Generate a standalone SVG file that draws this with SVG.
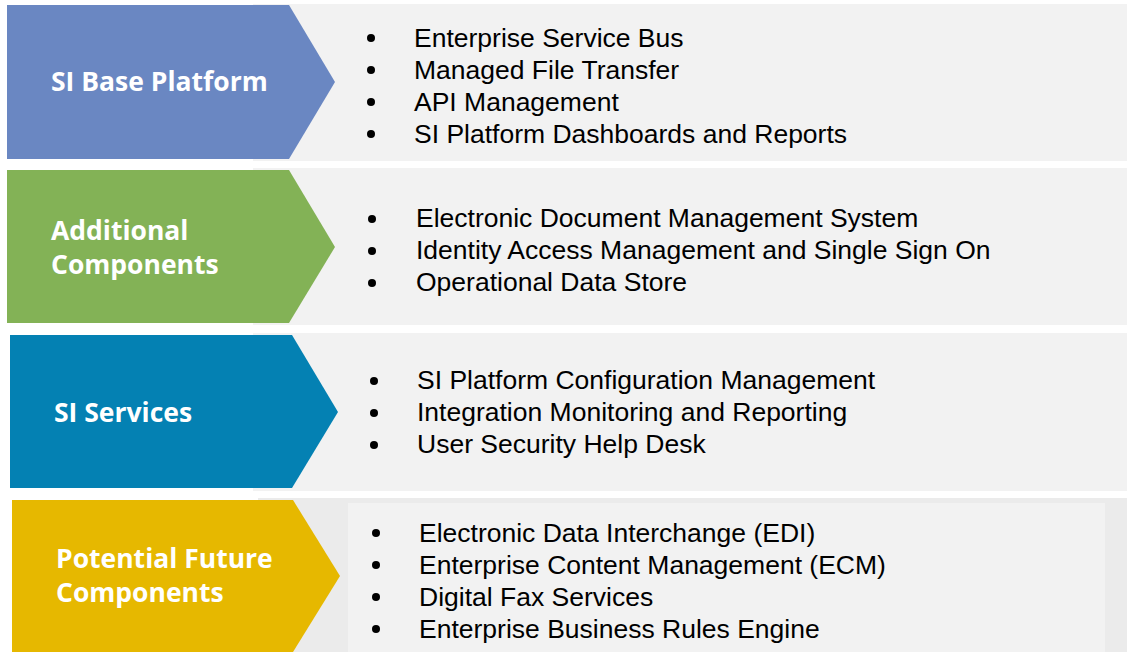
<svg xmlns="http://www.w3.org/2000/svg" width="1127" height="652" viewBox="0 0 1127 652">
<style>
.band{fill:#f2f2f2}
.lbl{font-family:"Open Sans","Liberation Sans",sans-serif;font-weight:bold;font-size:26.5px;fill:#ffffff}
.item{font-family:"Liberation Sans",Arial,sans-serif;font-size:26.5px;fill:#000000}
.dot{fill:#000000}
</style>
<rect x="0" y="0" width="1127" height="652" fill="#ffffff"/>
<g id="row1">
<rect class="band" x="253" y="4" width="874" height="157"/>
<polygon points="7,5 289,5 335,82 289,159 7,159" fill="#6a87c2"/>
<text class="lbl" x="51" y="91">SI Base Platform</text>
<circle class="dot" cx="371" cy="38" r="4"/><text class="item" x="414" y="47">Enterprise Service Bus</text>
<circle class="dot" cx="371" cy="70" r="4"/><text class="item" x="414" y="79">Managed File Transfer</text>
<circle class="dot" cx="371" cy="102" r="4"/><text class="item" x="414" y="111">API Management</text>
<circle class="dot" cx="371" cy="134" r="4"/><text class="item" x="414" y="143">SI Platform Dashboards and Reports</text>
</g>
<g id="row2">
<rect class="band" x="253" y="168" width="874" height="157"/>
<polygon points="7,170 289,170 335,247 289,323 7,323" fill="#83b256"/>
<text class="lbl" x="51" y="240">Additional</text>
<text class="lbl" x="51" y="274">Components</text>
<circle class="dot" cx="372" cy="219" r="4"/><text class="item" x="416" y="227">Electronic Document Management System</text>
<circle class="dot" cx="372" cy="251" r="4"/><text class="item" x="416" y="259">Identity Access Management and Single Sign On</text>
<circle class="dot" cx="372" cy="283" r="4"/><text class="item" x="416" y="291">Operational Data Store</text>
</g>
<g id="row3">
<rect class="band" x="253" y="333" width="874" height="158"/>
<polygon points="10,335 292,335 338,412 292,488 10,488" fill="#0481b3"/>
<text class="lbl" x="54" y="422">SI Services</text>
<circle class="dot" cx="374" cy="381" r="4"/><text class="item" x="417" y="389">SI Platform Configuration Management</text>
<circle class="dot" cx="374" cy="413" r="4"/><text class="item" x="417" y="421">Integration Monitoring and Reporting</text>
<circle class="dot" cx="374" cy="445" r="4"/><text class="item" x="417" y="453">User Security Help Desk</text>
</g>
<g id="row4">
<rect x="258" y="498" width="869" height="154" fill="#ebebeb"/>
<rect class="band" x="348" y="503" width="757" height="149"/>
<polygon points="12,500 293,500 340,576 293,652 12,652" fill="#e6b800"/>
<text class="lbl" x="56" y="568">Potential Future</text>
<text class="lbl" x="56" y="602">Components</text>
<circle class="dot" cx="376" cy="533" r="4"/><text class="item" x="419" y="542">Electronic Data Interchange (EDI)</text>
<circle class="dot" cx="376" cy="565" r="4"/><text class="item" x="419" y="574">Enterprise Content Management (ECM)</text>
<circle class="dot" cx="376" cy="597" r="4"/><text class="item" x="419" y="606">Digital Fax Services</text>
<circle class="dot" cx="376" cy="629" r="4"/><text class="item" x="419" y="638">Enterprise Business Rules Engine</text>
</g>
<g id="connectors"/>
</svg>
